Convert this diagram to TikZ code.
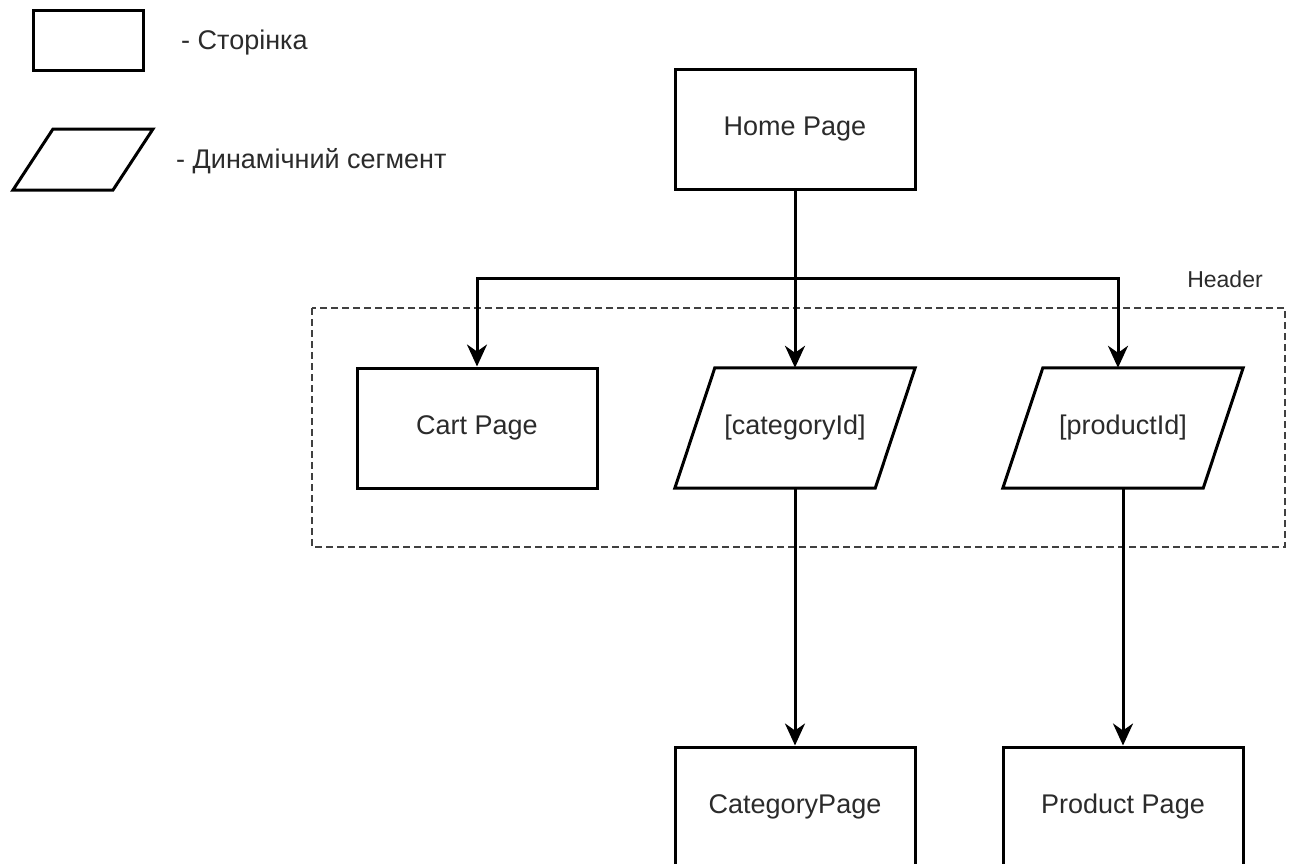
\documentclass[tikz,border=0pt]{standalone}
\usepackage{fontspec}
\setmainfont{Liberation Sans}
\usetikzlibrary{arrows.meta,calc}
\definecolor{txt}{HTML}{2B2B2B}
\tikzset{
  pagebox/.style={draw=black, line width=3pt, minimum width=240pt, minimum height=120pt, inner sep=0pt, text=txt, font=\fontsize{27pt}{32pt}\selectfont},
  segbox/.style={minimum width=200pt, minimum height=120pt, inner sep=0pt, text=txt, font=\fontsize{27pt}{32pt}\selectfont},
  segline/.style={draw=black, line width=3pt, line join=miter},
  conn/.style={draw=black, line width=3pt},
  arr/.style={conn, -{Stealth[length=22pt, width=20pt, inset=7pt]}},
  legtext/.style={anchor=west, inner sep=0pt, text=txt, font=\fontsize{27pt}{32pt}\selectfont},
  grouptext/.style={inner sep=0pt, text=txt, font=\fontsize{23pt}{28pt}\selectfont},
  groupbox/.style={draw=black!75, line width=1.3pt, dash pattern=on 7pt off 4pt}
}
\begin{document}
\begin{tikzpicture}[x=1pt, y=-1pt]
\clip (0,0) rectangle (1293,863);
\fill[white] (0,0) rectangle (1293,863);

% legend
\node[pagebox, minimum width=110pt, minimum height=60pt] (legpage) at (88,40) {};
\node[legtext] (legpagetext) at (181,43) {- Сторінка};
\draw[segline] (53,129) -- (153,129) -- (113,190) -- (13,190) -- cycle;
\node[legtext] (legsegtext) at (176,161) {- Динамічний сегмент};

% group
\draw[groupbox] (312,308) rectangle (1285,547);
\node[grouptext] (header) at (1225,279) {Header};

% nodes
\node[pagebox] (home) at (795,129.5) {Home Page};
\node[pagebox] (cart) at (477,428) {Cart Page};
\node[segbox] (cat) at (795,428) {[categoryId]};
\draw[segline] ($(cat.north west)+(20,0)$) -- ($(cat.north east)+(20,0)$) -- ($(cat.south east)+(-20,0)$) -- ($(cat.south west)+(-20,0)$) -- cycle;
\node[segbox] (prod) at (1123,428) {[productId]};
\draw[segline] ($(prod.north west)+(20,0)$) -- ($(prod.north east)+(20,0)$) -- ($(prod.south east)+(-20,0)$) -- ($(prod.south west)+(-20,0)$) -- cycle;
\node[pagebox] (catpage) at (795,807) {CategoryPage};
\node[pagebox] (prodpage) at (1123,807) {Product Page};

% connectors
\coordinate (bus) at (home.south |- 0,278);
\draw[conn] (home.south) -- (bus);
\draw[arr] (bus) -| (cart.north);
\draw[arr] (bus) -- (cat.north);
\draw[arr] (bus) -| ([xshift=-5pt]prod.north);
\draw[arr] (cat.south) -- (catpage.north);
\draw[arr] (prod.south) -- (prodpage.north);
\end{tikzpicture}
\end{document}
